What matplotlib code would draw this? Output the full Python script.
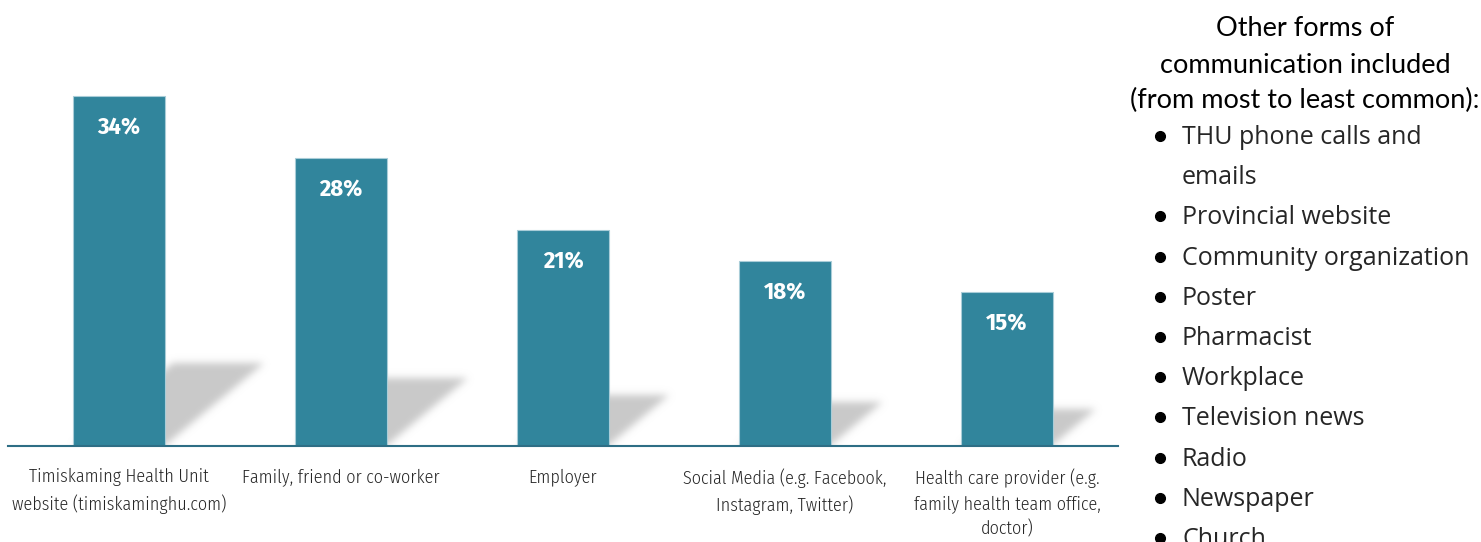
import numpy as np
import matplotlib
matplotlib.use("Agg")
import matplotlib.pyplot as plt
from matplotlib.lines import Line2D

# data
categories = ["Timiskaming Health Unit\nwebsite (timiskaminghu.com)",
              "Family, friend or co-worker",
              "Employer",
              "Social Media (e.g. Facebook,\nInstagram, Twitter)",
              "Health care provider (e.g.\nfamily health team office,\ndoctor)"]
values = [34, 28, 21, 18, 15]
value_labels = ["34%", "28%", "21%", "18%", "15%"]

side_title = ["Other forms of", "communication included", "(from most to least common):"]
other_forms = ["THU phone calls and\nemails", "Provincial website", "Community organization",
               "Poster", "Pharmacist", "Workplace", "Television news", "Radio",
               "Newspaper", "Church"]

BAR_COLOR = "#31859C"
BAR_W = 0.41
NARROW = ["Fira Sans Condensed", "Lato", "DejaVu Sans"]

fig = plt.figure(figsize=(14.81, 5.42), dpi=100)
ax = fig.add_axes([8 / 1481, 96 / 542, 1110 / 1481, 411.6 / 542])
ax.set_xlim(-0.5, 4.5)
ax.set_ylim(0, 40)

x = np.arange(len(values))

# soft floor shadows behind the bars (sheared copies, blurred)
nx, ny = 1110, 412
gx = np.linspace(-0.5, 4.5, nx)
gy = np.linspace(0, 40, ny)
XX, YY = np.meshgrid(gx, gy)
mask = np.zeros_like(XX)
for xi, v in zip(x, values):
    h = 0.235 * v
    s = 1.2 * h * (411.6 / 40) / 222
    frac = np.clip(YY / h, 0, 1)
    inside = (YY <= h) & (XX >= xi - BAR_W / 2 + s * frac) & (XX <= xi + BAR_W / 2 + s * frac)
    mask[inside] = 1.0

def blur(a, sigma):
    r = int(3 * sigma)
    k = np.exp(-0.5 * (np.arange(-r, r + 1) / sigma) ** 2)
    k /= k.sum()
    a = np.apply_along_axis(lambda m: np.convolve(m, k, mode="same"), 0, a)
    a = np.apply_along_axis(lambda m: np.convolve(m, k, mode="same"), 1, a)
    return a

mask = blur(mask, 3.8)
img = np.zeros((ny, nx, 4))
img[..., :3] = 0.79
img[..., 3] = np.clip(mask, 0, 1)
ax.imshow(img, extent=(-0.5, 4.5, 0, 40), origin="lower", aspect="auto", zorder=1,
          interpolation="bilinear")

ax.bar(x, values, width=BAR_W, color=BAR_COLOR, edgecolor="#a9cdd8", linewidth=0.8, zorder=2)

for xi, v, lab in zip(x, values, value_labels):
    ax.annotate(lab, (xi, v), xytext=(0, -23), textcoords="offset points",
                ha="center", va="center", color="white", fontsize=17.5,
                fontweight="bold", family=NARROW, zorder=3)

ax.set_xticks(x)
ax.set_xticklabels(categories, fontsize=13, family=NARROW, fontweight=300,
                   color="#262626", linespacing=1.48, va="top")
ax.tick_params(axis="x", length=0, pad=16)
ax.set_yticks([])
for side in ["left", "right", "top"]:
    ax.spines[side].set_visible(False)
ax.spines["bottom"].set_color("#2e6e85")
ax.spines["bottom"].set_linewidth(1.5)
ax.spines["bottom"].set_zorder(4)

# side text
H = 542
for line, base in zip(side_title, [36, 73, 108]):
    fig.text(1305 / 1481, 1 - base / H, line, ha="center", va="baseline", fontsize=19.5,
             family=["Lato", "DejaVu Sans"], color="black")

line_h = 40.2
base = 144
for item in other_forms:
    fig.add_artist(Line2D([1160 / 1481], [1 - (base - 8) / H], marker="o", ms=7,
                          color="black", transform=fig.transFigure))
    for part in item.split("\n"):
        fig.text(1182 / 1481, 1 - base / H, part, ha="left", va="baseline", fontsize=18,
                 family=["Open Sans", "DejaVu Sans"], color="#262626")
        base += line_h

fig.savefig("out.png", dpi=100)
